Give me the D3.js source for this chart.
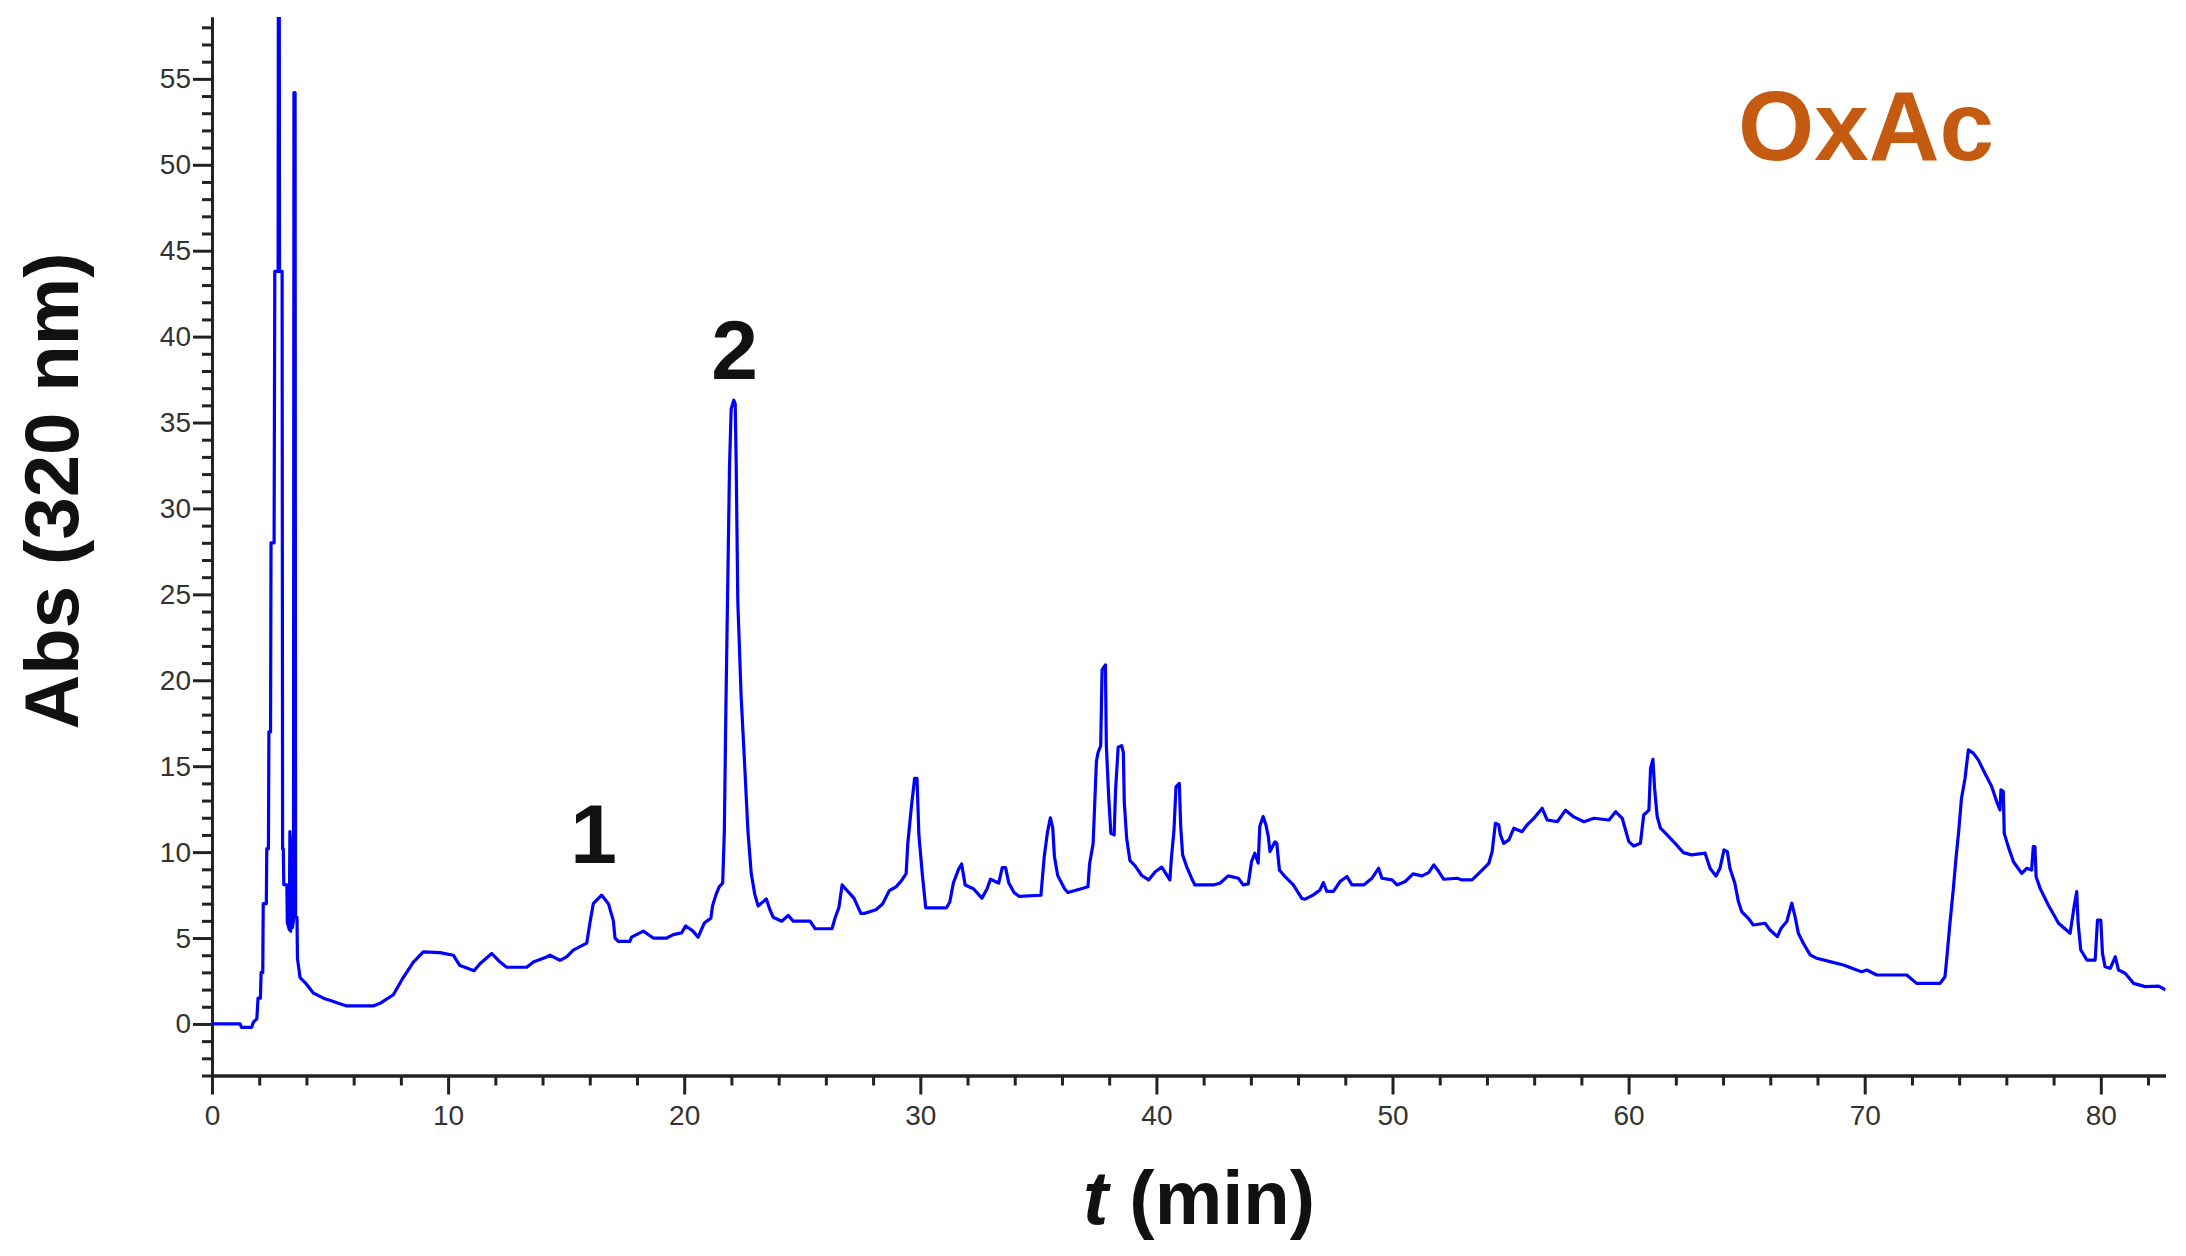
<!DOCTYPE html>
<html>
<head>
<meta charset="utf-8">
<script src="https://cdn.jsdelivr.net/npm/d3@7"></script>
<style>
  body { margin: 0; background: #fff; }
  svg { display: block; }
  .axis text { font-family: 'Liberation Sans', Arial, sans-serif; font-size: 28px; fill: #333; }
  .axis path, .axis line { stroke: #222; stroke-width: 3; }
  .title { font-family: 'Liberation Sans', Arial, sans-serif; font-weight: bold; }
</style>
</head>
<body>
<div id="chart"></div>
<script>
// chromatogram, Abs at 320 nm vs retention time

// retention time (min)
var timeMin = [
  0, 1.19, 1.25, 1.68, 1.75, 1.9, 1.95, 2.05, 2.08, 2.15, 2.17, 2.3, 2.32, 2.39, 2.41, 2.48, 2.5, 2.63,
  2.66, 2.8, 2.81, 2.85, 2.86, 2.97, 2.99, 3.02, 3.04, 3.17, 3.19, 3.27, 3.3, 3.33, 3.37, 3.4, 3.45,
  3.47, 3.52, 3.54, 3.6, 3.62, 3.73, 4.01, 4.29, 4.72, 5.14, 5.7, 6.83, 7.12, 7.68, 8.1, 8.53, 8.95,
  9.66, 10.22, 10.5, 10.79, 11.1, 11.35, 11.85, 12.2, 12.48, 13.33, 13.61, 14.18, 14.32, 14.74, 15.02,
  15.3, 15.87, 16.01, 16.15, 16.5, 16.79, 17.0, 17.07, 17.21, 17.7, 17.77, 18.27, 18.69, 19.26, 19.54,
  19.89, 20.06, 20.35, 20.59, 20.85, 21.13, 21.2, 21.35, 21.48, 21.63, 21.7, 21.77, 21.92, 21.99, 22.1,
  22.16, 22.2, 22.27, 22.41, 22.56, 22.7, 22.84, 22.99, 23.13, 23.48, 23.63, 23.77, 24.13, 24.41, 24.62,
  25.33, 25.55, 26.26, 26.4, 26.55, 26.69, 26.83, 27.19, 27.48, 27.62, 28.12, 28.4, 28.69, 28.97, 29.19,
  29.4, 29.47, 29.62, 29.76, 29.86, 29.94, 30.09, 30.23, 31.11, 31.25, 31.4, 31.61, 31.75, 31.9, 32.25,
  32.61, 32.83, 32.97, 33.32, 33.47, 33.61, 33.75, 33.97, 34.18, 35.11, 35.25, 35.39, 35.51, 35.61, 35.68,
  35.82, 36.11, 36.25, 36.82, 37.1, 37.17, 37.32, 37.46, 37.53, 37.64, 37.7, 37.84, 37.88, 37.98, 38.07,
  38.21, 38.27, 38.38, 38.53, 38.6, 38.64, 38.74, 38.88, 39.1, 39.38, 39.67, 39.95, 40.23, 40.57, 40.64,
  40.74, 40.83, 40.97, 41.03, 41.11, 41.28, 41.49, 41.63, 42.41, 42.69, 43.04, 43.47, 43.68, 43.89, 44.03,
  44.17, 44.31, 44.38, 44.52, 44.64, 44.74, 44.81, 45.02, 45.1, 45.21, 45.45, 45.8, 46.16, 46.3, 46.65,
  46.93, 47.07, 47.22, 47.5, 47.78, 48.07, 48.28, 48.78, 49.13, 49.41, 49.55, 49.98, 50.19, 50.54, 50.87,
  51.25, 51.53, 51.75, 51.96, 52.17, 52.74, 52.95, 53.37, 53.59, 53.87, 54.08, 54.22, 54.36, 54.5, 54.57,
  54.71, 54.93, 55.14, 55.49, 55.7, 55.99, 56.34, 56.55, 56.98, 57.33, 57.68, 58.11, 58.53, 59.17, 59.45,
  59.73, 59.87, 60.01, 60.22, 60.5, 60.64, 60.86, 60.93, 61.03, 61.1, 61.21, 61.35, 61.63, 61.99, 62.32,
  62.67, 63.24, 63.45, 63.7, 63.87, 64.04, 64.18, 64.29, 64.5, 64.65, 64.79, 65.07, 65.28, 65.78, 65.99,
  66.3, 66.46, 66.7, 66.91, 67.05, 67.19, 67.4, 67.69, 67.97, 68.53, 69.1, 69.66, 69.87, 70.09, 70.51,
  71.78, 72.2, 73.19, 73.4, 73.47, 73.61, 73.75, 73.86, 73.98, 74.1, 74.25, 74.39, 74.6, 74.81, 75.09,
  75.38, 75.59, 75.73, 75.77, 75.87, 75.91, 76.08, 76.3, 76.65, 76.86, 77.07, 77.14, 77.21, 77.26, 77.43,
  77.78, 78.21, 78.7, 78.87, 78.98, 79.04, 79.15, 79.41, 79.76, 79.86, 80.0, 80.07, 80.18, 80.4, 80.61,
  80.75, 81.03, 81.39, 81.88, 82.45, 82.74
];

// absorbance (320 nm)
var absValues = [
  0, 0, -0.2, -0.2, 0.1, 0.3, 1.5, 1.5, 3.0, 3.0, 7.0, 7.0, 10.2, 10.2, 17.0, 17.0, 28.0, 28.0,
  43.8, 43.8, 60, 60, 43.8, 43.8, 10.2, 10.2, 8.1, 8.1, 5.9, 5.5, 11.2, 5.4, 10.8, 5.6, 6.0,
  54.2, 54.2, 6.2, 6.2, 3.8, 2.7, 2.3, 1.8, 1.5, 1.3, 1.05, 1.05, 1.2, 1.7, 2.7, 3.6, 4.2,
  4.15, 4.0, 3.4, 3.25, 3.1, 3.5, 4.1, 3.6, 3.3, 3.3, 3.6, 3.9, 4.0, 3.7, 3.9,
  4.3, 4.7, 5.9, 7.0, 7.5, 7.0, 6.0, 5.0, 4.8, 4.8, 5.05, 5.4, 5.0, 5.0, 5.2,
  5.3, 5.7, 5.43, 5.05, 5.87, 6.16, 6.87, 7.54, 7.98, 8.2, 11.2, 18.8, 32.5, 35.8, 36.3,
  36.1, 32.8, 24.6, 19.1, 15.1, 11.2, 8.75, 7.54, 6.87, 7.27, 6.65, 6.21, 5.98, 6.32, 5.98,
  5.98, 5.54, 5.54, 6.21, 6.76, 8.09, 7.87, 7.32, 6.43, 6.43, 6.65, 6.98, 7.76, 7.98, 8.31,
  8.75, 10.5, 12.6, 14.3, 14.3, 11.0, 8.64, 6.76, 6.76, 7.1, 8.2, 8.97, 9.31, 8.09, 7.87,
  7.32, 7.87, 8.42, 8.2, 9.1, 9.1, 8.2, 7.65, 7.43, 7.49, 9.75, 11.2, 12.0, 11.4, 9.75,
  8.64, 7.87, 7.65, 7.87, 7.98, 9.31, 10.5, 15.3, 15.8, 16.2, 20.6, 20.9, 16.2, 13.2, 11.1,
  11.0, 13.6, 16.1, 16.2, 15.8, 12.9, 10.8, 9.5, 9.2, 8.64, 8.38, 8.86, 9.13, 8.38, 9.74,
  11.2, 13.8, 14.0, 11.5, 9.84, 9.16, 8.48, 8.09, 8.09, 8.19, 8.62, 8.48, 8.09, 8.15, 9.45,
  9.94, 9.36, 11.5, 12.07, 11.58, 10.9, 10.03, 10.6, 10.5, 8.96, 8.57, 8.09, 7.31, 7.26, 7.51,
  7.8, 8.23, 7.71, 7.71, 8.29, 8.58, 8.09, 8.09, 8.48, 9.06, 8.48, 8.38, 8.09, 8.29, 8.73,
  8.62, 8.81, 9.26, 8.87, 8.42, 8.48, 8.38, 8.38, 8.67, 9.06, 9.35, 10.03, 11.68, 11.58, 11.0,
  10.51, 10.71, 11.39, 11.19, 11.58, 11.97, 12.55, 11.87, 11.77, 12.44, 12.05, 11.77, 11.97, 11.87, 12.35,
  11.97, 11.29, 10.61, 10.36, 10.51, 12.16, 12.44, 14.88, 15.4, 13.72, 12.07, 11.39, 11.0, 10.48, 9.97,
  9.84, 9.94, 9.06, 8.61, 9.06, 10.13, 10.03, 9.06, 8.19, 7.12, 6.54, 6.15, 5.76, 5.86, 5.47,
  5.08, 5.57, 5.96, 7.03, 6.25, 5.28, 4.7, 4.02, 3.82, 3.63, 3.43, 3.14, 3.04, 3.14, 2.85,
  2.85, 2.36, 2.36, 2.75, 3.72, 5.86, 7.8, 9.55, 11.2, 13.14, 14.3, 15.95, 15.76, 15.37, 14.59,
  13.81, 12.94, 12.45, 13.62, 13.52, 11.09, 10.32, 9.44, 8.76, 9.06, 8.96, 10.32, 10.32, 8.57, 7.89,
  6.91, 5.86, 5.28, 6.83, 7.7, 5.86, 4.31, 3.72, 3.72, 6.05, 6.05, 4.11, 3.33, 3.24, 3.91,
  3.14, 2.95, 2.36, 2.17, 2.2, 1.98
];

// tick values
var xMajorTicks = [0, 10, 20, 30, 40, 50, 60, 70, 80];
var yMajorTicks = [0, 5, 10, 15, 20, 25, 30, 35, 40, 45, 50, 55];

// peak labels: [text, t, abs]
var peakLabels = [['1', 16.16, 9.37], ['2', 22.13, 37.54]];

var width = 2186;
var height = 1256;

// plot area
var margin = { top: 17, right: 20, bottom: 180, left: 212 };
var plotRight = 2165.5;
var plotBottom = 1075.5;

var xScale = d3.scaleLinear()
  .domain([0, 82.74])
  .range([margin.left, plotRight]);

var yScale = d3.scaleLinear()
  .domain([-3, 58.6])
  .range([plotBottom, margin.top]);

var svg = d3.select('#chart').append('svg')
  .attr('width', width)
  .attr('height', height);

svg.append('defs').append('clipPath')
  .attr('id', 'plot-clip')
  .append('rect')
  .attr('x', margin.left)
  .attr('y', margin.top)
  .attr('width', plotRight - margin.left)
  .attr('height', plotBottom - margin.top);

// minor ticks
var xMinor = d3.range(0, 83, 2).filter(function(d) { return d % 10 !== 0; });
var yMinor = d3.range(-3, 59, 1).filter(function(d) { return d % 5 !== 0; });

svg.append('g')
  .attr('class', 'axis')
  .attr('transform', 'translate(0,' + plotBottom + ')')
  .call(d3.axisBottom(xScale).tickValues(xMinor).tickSize(10).tickSizeOuter(0).tickFormat(''));

svg.append('g')
  .attr('class', 'axis')
  .attr('transform', 'translate(' + margin.left + ',0)')
  .call(d3.axisLeft(yScale).tickValues(yMinor).tickSize(10).tickSizeOuter(0).tickFormat(''));

// major ticks
svg.append('g')
  .attr('class', 'axis')
  .attr('transform', 'translate(0,' + plotBottom + ')')
  .call(d3.axisBottom(xScale).tickValues(xMajorTicks).tickSize(19).tickSizeOuter(0).tickPadding(11));

svg.append('g')
  .attr('class', 'axis')
  .attr('transform', 'translate(' + margin.left + ',0)')
  .call(d3.axisLeft(yScale).tickValues(yMajorTicks).tickSize(19).tickSizeOuter(0).tickPadding(2));

// trace
var line = d3.line()
  .x(function(d) { return xScale(d[0]); })
  .y(function(d) { return yScale(d[1]); });

var points = timeMin.map(function(t, i) { return [t, absValues[i]]; });

svg.append('path')
  .datum(points)
  .attr('clip-path', 'url(#plot-clip)')
  .attr('d', line)
  .attr('fill', 'none')
  .attr('stroke', '#0000ff')
  .attr('stroke-width', 3.2)
  .attr('stroke-linejoin', 'round');

// peak labels
svg.selectAll('.peak-label')
  .data(peakLabels)
  .enter()
  .append('text')
  .attr('class', 'title peak-label')
  .attr('x', function(d) { return xScale(d[1]); })
  .attr('y', function(d) { return yScale(d[2]); })
  .attr('text-anchor', 'middle')
  .style('font-size', '84px')
  .style('fill', '#111')
  .text(function(d) { return d[0]; });

// axis titles
svg.append('text')
  .attr('class', 'title')
  .attr('transform', 'translate(78,491) rotate(-90)')
  .attr('text-anchor', 'middle')
  .style('font-size', '76px')
  .style('fill', '#111')
  .text('Abs (320 nm)');

var xTitle = svg.append('text')
  .attr('class', 'title')
  .attr('x', 1199)
  .attr('y', 1224)
  .attr('text-anchor', 'middle')
  .style('font-size', '76px')
  .style('fill', '#111');
xTitle.append('tspan').style('font-style', 'italic').text('t');
xTitle.append('tspan').text(' (min)');

// sample name
svg.append('text')
  .attr('class', 'title')
  .attr('x', 1738)
  .attr('y', 160)
  .style('font-size', '98px')
  .style('fill', '#c55a11')
  .text('OxAc');
</script>
</body>
</html>
